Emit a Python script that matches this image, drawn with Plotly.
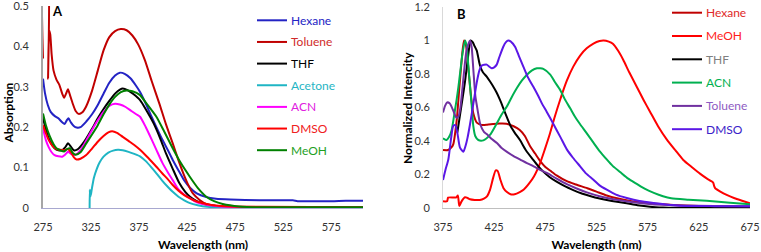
import plotly.graph_objects as go

# ---------------- Panel A : absorption ----------------
a_ticks = [275, 325, 375, 425, 475, 525, 575]
a_yticks = [0, 0.1, 0.2, 0.3, 0.4, 0.5]
a_yticktext = ["0", "0.1", "0.2", "0.3", "0.4", "0.5"]

hexA_x = [275, 277, 280, 283, 287, 291, 295, 297.5, 300, 301.5, 304, 307, 310, 314, 320, 326, 332, 338, 344, 350, 355, 360, 366, 372, 376, 382, 388, 393, 399, 405, 410, 416, 422, 428, 435, 445, 455, 470, 500, 535, 540, 575, 590, 608]
hexA_y = [0.32, 0.285, 0.255, 0.238, 0.228, 0.222, 0.212, 0.208, 0.218, 0.222, 0.212, 0.203, 0.199, 0.2, 0.214, 0.232, 0.255, 0.283, 0.31, 0.328, 0.335, 0.332, 0.321, 0.302, 0.287, 0.258, 0.226, 0.2, 0.17, 0.143, 0.119, 0.093, 0.068, 0.05, 0.036, 0.027, 0.023, 0.021, 0.019, 0.019, 0.017, 0.017, 0.018, 0.018]

tolA_x = [275, 275.6, 279.6, 280.3, 281.3, 282.5, 284, 286, 289, 292, 295, 297, 299, 301, 303, 306, 309, 312, 316, 320, 326, 332, 338, 344, 350, 356, 362, 368, 374, 381, 388, 396, 403, 410, 416, 421, 426, 431, 438, 445, 455, 475, 520, 608]
tolA_y = [0.37, 0.6, 0.6, 0.32, 0.44, 0.43, 0.38, 0.34, 0.318, 0.305, 0.283, 0.273, 0.283, 0.294, 0.28, 0.258, 0.24, 0.233, 0.237, 0.252, 0.29, 0.34, 0.39, 0.423, 0.438, 0.443, 0.44, 0.427, 0.405, 0.366, 0.315, 0.259, 0.207, 0.16, 0.118, 0.086, 0.058, 0.036, 0.02, 0.01, 0.005, 0.003, 0.002, 0.001]

thfA_x = [275, 278, 281, 284, 287, 291, 295, 298, 301, 304, 307, 311, 316, 320, 326, 332, 338, 344, 350, 355, 358, 363, 369, 376, 383, 390, 397, 403, 410, 417, 423, 428, 435, 445, 460, 490, 608]
thfA_y = [0.222, 0.195, 0.172, 0.158, 0.148, 0.143, 0.143, 0.15, 0.16, 0.152, 0.143, 0.145, 0.158, 0.172, 0.196, 0.222, 0.245, 0.265, 0.283, 0.293, 0.296, 0.292, 0.282, 0.267, 0.24, 0.21, 0.172, 0.135, 0.097, 0.061, 0.04, 0.028, 0.017, 0.008, 0.004, 0.002, 0.001]

aceA_x = [323.5, 323.7, 324.2, 325, 326, 328, 331, 334, 338, 343, 348, 353, 358, 364, 370, 376, 382, 388, 393, 399, 405, 410, 416, 422, 428, 436, 446, 460, 480, 608]
aceA_y = [0.0, 0.045, 0.028, 0.035, 0.05, 0.075, 0.097, 0.113, 0.127, 0.137, 0.142, 0.144, 0.143, 0.139, 0.134, 0.128, 0.116, 0.1, 0.086, 0.068, 0.052, 0.04, 0.028, 0.019, 0.012, 0.007, 0.003, 0.001, 0.0, 0.0]

acnA_x = [275, 278, 281, 284, 287, 291, 295, 298, 301, 304, 307, 311, 316, 320, 326, 332, 338, 344, 350, 355, 361, 367, 372, 376, 382, 388, 393, 399, 405, 410, 416, 422, 428, 435, 445, 460, 480, 608]
acnA_y = [0.197, 0.168, 0.15, 0.138, 0.131, 0.128, 0.127, 0.132, 0.139, 0.134, 0.131, 0.135, 0.15, 0.167, 0.193, 0.217, 0.238, 0.253, 0.258, 0.256, 0.25, 0.24, 0.232, 0.226, 0.2, 0.17, 0.144, 0.113, 0.088, 0.069, 0.046, 0.033, 0.024, 0.014, 0.008, 0.004, 0.002, 0.001]

dmsoA_x = [275, 278, 281, 285, 289, 293, 297, 301, 304, 307, 310, 314, 320, 326, 332, 338, 343, 347, 352, 358, 364, 370, 376, 382, 388, 393, 399, 405, 410, 416, 422, 428, 435, 445, 455, 470, 500, 608]
dmsoA_y = [0.205, 0.185, 0.168, 0.153, 0.146, 0.144, 0.143, 0.146, 0.138, 0.126, 0.12, 0.122, 0.131, 0.147, 0.164, 0.178, 0.187, 0.19, 0.186, 0.176, 0.166, 0.156, 0.144, 0.13, 0.115, 0.102, 0.086, 0.071, 0.057, 0.043, 0.032, 0.024, 0.016, 0.01, 0.006, 0.004, 0.003, 0.002]

meohA_x = [275, 278, 282, 286, 289, 293, 297, 300, 303, 306, 309, 314, 320, 326, 332, 338, 344, 350, 356, 362, 368, 375.7, 383, 393, 401, 410, 418, 427.6, 436, 445, 453, 462, 479, 500, 608]
meohA_y = [0.234, 0.205, 0.178, 0.158, 0.148, 0.143, 0.14, 0.146, 0.148, 0.136, 0.132, 0.138, 0.16, 0.182, 0.205, 0.232, 0.256, 0.275, 0.287, 0.291, 0.289, 0.28, 0.258, 0.226, 0.19, 0.148, 0.113, 0.078, 0.05, 0.028, 0.017, 0.01, 0.004, 0.002, 0.002]

# ---------------- Panel B : emission ----------------
b_ticks = [375, 425, 475, 525, 575, 625, 675]
b_yticks = [0, 0.2, 0.4, 0.6, 0.8, 1.0, 1.2]
b_yticktext = ["0", "0.2", "0.4", "0.6", "0.8", "1", "1.2"]

hexB_x = [375, 380, 383, 385, 388.4, 391, 393.5, 395.5, 397.5, 400, 402.5, 404.6, 408, 412.8, 418, 424, 430, 437, 444, 450, 455, 460, 465, 470, 475, 480, 486, 496, 505, 516, 525, 535, 545, 558, 575, 590, 610, 640, 675]
hexB_y = [0.346, 0.346, 0.36, 0.38, 0.525, 0.72, 0.9, 1.0, 0.97, 0.82, 0.66, 0.565, 0.51, 0.496, 0.497, 0.501, 0.504, 0.503, 0.488, 0.466, 0.43, 0.37, 0.325, 0.28, 0.245, 0.222, 0.195, 0.16, 0.14, 0.118, 0.098, 0.075, 0.058, 0.042, 0.03, 0.022, 0.015, 0.01, 0.006]

meohB_x = [375, 379, 380, 385, 388, 389.5, 390.5, 391, 393, 396.5, 399, 401.4, 406, 411, 415, 418, 421, 424, 426.5, 428.5, 431, 434, 437.5, 441, 445, 450, 454, 459, 464, 469.8, 474.5, 479.6, 484, 489.4, 496, 502.3, 509, 515.4, 522, 528, 532, 537, 541, 546, 551.2, 557, 564.3, 571, 577.3, 585, 593.6, 602, 609.8, 618, 626.1, 633, 639, 640, 641, 646, 652.2, 660, 668, 675]
meohB_y = [0.04, 0.04, 0.062, 0.063, 0.063, 0.075, 0.03, 0.012, 0.038, 0.064, 0.06, 0.052, 0.048, 0.048, 0.056, 0.07, 0.11, 0.18, 0.225, 0.22, 0.17, 0.12, 0.095, 0.082, 0.082, 0.095, 0.11, 0.145, 0.19, 0.267, 0.35, 0.446, 0.54, 0.645, 0.76, 0.844, 0.91, 0.953, 0.982, 0.997, 1.0, 0.993, 0.98, 0.94, 0.884, 0.81, 0.724, 0.645, 0.575, 0.49, 0.41, 0.345, 0.287, 0.245, 0.205, 0.175, 0.152, 0.13, 0.118, 0.098, 0.078, 0.058, 0.042, 0.028]

thfB_x = [389, 391.6, 394, 396.5, 399, 401, 402, 404, 406, 408, 411, 414, 417.7, 421, 424.2, 427.5, 430.7, 434, 437.2, 441, 445, 450.2, 456, 463.2, 468, 473, 479, 486, 494, 502.3, 510, 518.6, 527, 535, 545, 554.5, 565, 577.3, 590, 600, 625, 675]
thfB_y = [0.45, 0.555, 0.65, 0.755, 0.88, 0.975, 1.0, 0.99, 0.965, 0.94, 0.854, 0.81, 0.784, 0.755, 0.724, 0.688, 0.645, 0.595, 0.545, 0.49, 0.45, 0.406, 0.345, 0.287, 0.25, 0.217, 0.185, 0.157, 0.13, 0.107, 0.088, 0.072, 0.058, 0.048, 0.037, 0.028, 0.017, 0.008, 0.003, 0.001, 0.0, 0.0]

acnB_x = [375, 378.5, 381, 383.5, 386.7, 388.4, 390, 392, 394, 396.5, 398, 399.7, 401.5, 403, 404.6, 406.5, 409.5, 414.4, 420.9, 427.7, 432, 437.5, 442, 447.2, 452, 457, 462, 466.8, 470, 473, 479.8, 484, 489.5, 494, 499.3, 504, 509, 515, 522, 528, 535, 541, 548, 556, 564, 572, 581, 590, 598, 615, 632.7, 655.5, 675]
acnB_y = [0.416, 0.406, 0.425, 0.466, 0.585, 0.65, 0.72, 0.82, 0.92, 1.0, 0.97, 0.853, 0.72, 0.615, 0.49, 0.43, 0.406, 0.404, 0.436, 0.507, 0.555, 0.607, 0.66, 0.716, 0.76, 0.796, 0.822, 0.834, 0.834, 0.83, 0.796, 0.755, 0.705, 0.65, 0.595, 0.545, 0.5, 0.45, 0.39, 0.34, 0.29, 0.25, 0.215, 0.175, 0.145, 0.115, 0.09, 0.07, 0.058, 0.05, 0.043, 0.032, 0.022]

tolB_x = [375, 377, 379, 381.5, 384.8, 388, 390, 392, 394, 396, 398, 401.4, 403, 404.6, 406.6, 408, 411.4, 415, 418, 423, 427.7, 432, 437.5, 444, 450.5, 457, 463.5, 470, 476.5, 486, 496, 505, 515.6, 528, 541.6, 557, 574, 590, 606.7, 640, 675]
tolB_y = [0.57, 0.61, 0.63, 0.625, 0.585, 0.54, 0.545, 0.6, 0.715, 0.84, 0.94, 1.0, 0.96, 0.83, 0.67, 0.615, 0.5, 0.455, 0.44, 0.41, 0.388, 0.36, 0.335, 0.31, 0.289, 0.268, 0.249, 0.228, 0.209, 0.175, 0.142, 0.118, 0.093, 0.07, 0.052, 0.037, 0.026, 0.019, 0.015, 0.012, 0.01]

dmsoB_x = [375, 377.5, 380.2, 383, 385, 387, 389, 391.6, 394.9, 397, 399, 401.4, 404.6, 408, 410.5, 412.8, 417.7, 420, 422.6, 425, 427.5, 430, 433.9, 436.5, 438.8, 441, 445.4, 449, 453.5, 458, 463.3, 468, 472, 476.3, 483, 490, 496, 502, 509, 515, 522, 528, 535, 544, 554.6, 567, 580.7, 593, 606.7, 640, 675]
dmsoB_y = [0.167, 0.23, 0.29, 0.42, 0.49, 0.495, 0.45, 0.36, 0.336, 0.37, 0.42, 0.5, 0.62, 0.75, 0.82, 0.85, 0.856, 0.845, 0.835, 0.84, 0.856, 0.9, 0.963, 0.99, 1.0, 0.995, 0.963, 0.91, 0.844, 0.78, 0.724, 0.67, 0.62, 0.575, 0.5, 0.42, 0.35, 0.3, 0.249, 0.205, 0.169, 0.135, 0.109, 0.08, 0.06, 0.042, 0.03, 0.021, 0.014, 0.011, 0.01]

FONT = "Lato"
W, H = 761, 252

series_A = [
    ("Hexane", hexA_x, hexA_y, "#2323C4", "#2323C4"),
    ("Toluene", tolA_x, tolA_y, "#C00000", "#D02A2A"),
    ("THF", thfA_x, thfA_y, "#000000", "#000000"),
    ("Acetone", aceA_x, aceA_y, "#1FB5C4", "#1FB5C4"),
    ("ACN", acnA_x, acnA_y, "#FF00FF", "#E020E0"),
    ("DMSO", dmsoA_x, dmsoA_y, "#FF0000", "#F02020"),
    ("MeOH", meohA_x, meohA_y, "#008000", "#1F9F1F"),
]
series_B = [
    ("Hexane", hexB_x, hexB_y, "#C00000", "#E02828"),
    ("MeOH", meohB_x, meohB_y, "#FF0000", "#FF2020"),
    ("THF", thfB_x, thfB_y, "#000000", "#808080"),
    ("ACN", acnB_x, acnB_y, "#00B050", "#00B050"),
    ("Toluene", tolB_x, tolB_y, "#7030A0", "#8E5BC2"),
    ("DMSO", dmsoB_x, dmsoB_y, "#5B17E6", "#3A22C8"),
]

fig = go.Figure()
for name, xs, ys, col, tcol in series_A:
    fig.add_trace(go.Scatter(
        x=xs, y=ys, mode="lines", xaxis="x", yaxis="y", name=name,
        line=dict(color=col, width=2, shape="spline", smoothing=0.6),
        showlegend=False))
for name, xs, ys, col, tcol in series_B:
    fig.add_trace(go.Scatter(
        x=xs, y=ys, mode="lines", xaxis="x2", yaxis="y2", name=name,
        line=dict(color=col, width=2, shape="spline", smoothing=0.6),
        showlegend=False))

# legend entries drawn as line samples + coloured labels (paper coordinates)
shapes, annotations = [], []
def add_legend(series, x0, x1, xt, y0, dy):
    for i, (name, xs, ys, col, tcol) in enumerate(series):
        py = y0 + dy * i
        shapes.append(dict(type="line", xref="paper", yref="paper",
                           x0=x0 / W, x1=x1 / W, y0=1 - py / H, y1=1 - py / H,
                           line=dict(color=col, width=2)))
        annotations.append(dict(text=name, x=xt / W, y=1 - py / H, xref="paper",
                                yref="paper", xanchor="left", yanchor="middle",
                                showarrow=False,
                                font=dict(family=FONT, size=12, color=tcol)))

add_legend(series_A, 257, 287, 289, 20.3, 21.65)
add_legend(series_B, 672, 702, 704, 12.7, 23.3)

annotations += [
    dict(text="<b>A</b>", x=50 / W, y=1 - 11 / H, xref="paper", yref="paper",
         xanchor="left", yanchor="middle", showarrow=False,
         font=dict(family=FONT, size=13, color="#000")),
    dict(text="<b>B</b>", x=455 / W, y=1 - 14 / H, xref="paper", yref="paper",
         xanchor="left", yanchor="middle", showarrow=False,
         font=dict(family=FONT, size=13, color="#000")),
    dict(text="<b>Absorption</b>", x=8.5 / W, y=1 - 113 / H, xref="paper", yref="paper",
         xanchor="center", yanchor="middle", textangle=-90, showarrow=False,
         font=dict(family=FONT, size=12, color="#000")),
    dict(text="<b>Normalized Intencity</b>", x=407 / W, y=1 - 108 / H, xref="paper",
         yref="paper", xanchor="center", yanchor="middle", textangle=-90,
         showarrow=False, font=dict(family=FONT, size=12, color="#000")),
]

tickfont = dict(family=FONT, size=11, color="#333333")
titlefont = dict(family=FONT, size=12, color="#000000", weight="bold")

common = dict(showgrid=False, zeroline=False, showline=True, ticks="",
              tickfont=tickfont, automargin=False, ticklabeloverflow="allow")

fig.update_layout(
    width=W, height=H,
    margin=dict(l=0, r=0, t=0, b=0, autoexpand=False),
    paper_bgcolor="white", plot_bgcolor="white",
    font=dict(family=FONT, size=12),
    showlegend=False,
    xaxis=dict(domain=[43 / W, 363 / W], range=[275, 608], tickvals=a_ticks,
               linecolor="#A8A8D0", linewidth=1, ticklabelstandoff=9,
               title=dict(text="Wavelength (nm)", font=titlefont, standoff=13),
               **common),
    yaxis=dict(domain=[44 / H, 246 / H], range=[0, 0.5], tickvals=a_yticks,
               ticktext=a_yticktext, linecolor="#A6A6A6", linewidth=2,
               ticklabelstandoff=10, **common),
    xaxis2=dict(domain=[443 / W, 750 / W], range=[375, 675], tickvals=b_ticks,
                anchor="y2", linecolor="#BFBFBF", linewidth=1, ticklabelstandoff=9,
                title=dict(text="Wavelength (nm)", font=titlefont, standoff=13),
                **common),
    yaxis2=dict(domain=[44 / H, 245 / H], range=[0, 1.2], tickvals=b_yticks,
                ticktext=b_yticktext, anchor="x2", linecolor="#D9D9D9", linewidth=1,
                ticklabelstandoff=10, **common),
    shapes=shapes,
    annotations=annotations,
)

fig.write_html("out.html", config={"displayModeBar": False},
               post_script="document.body.style.margin='0px';")
